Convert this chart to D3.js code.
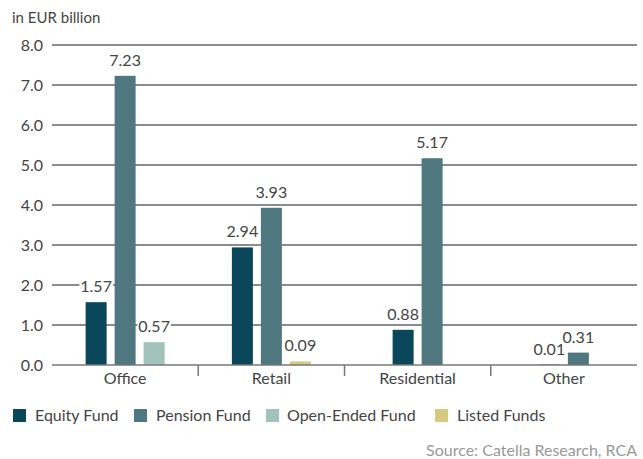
<!DOCTYPE html>
<html>
<head>
<meta charset="utf-8">
<script src="https://cdn.jsdelivr.net/npm/d3@7"></script>
<style>
  body { margin: 0; background: #fff; }
  text { font-family: Lato, "Open Sans", sans-serif; }
</style>
</head>
<body>
<svg id="chart" width="643" height="459"></svg>
<script>
// data
const categories = ["Office", "Retail", "Residential", "Other"];
const seriesNames = ["Equity Fund", "Pension Fund", "Open-Ended Fund", "Listed Funds"];
const equityFund = [1.57, 2.94, 0.88, 0.01];
const pensionFund = [7.23, 3.93, 5.17, 0.31];
const openEndedFund = [0.57, null, null, null];
const listedFunds = [null, 0.09, null, null];
const yTicks = [0, 1, 2, 3, 4, 5, 6, 7, 8];
const colors = ["#0a475a", "#4f7880", "#a1c3ba", "#d5ca80"];

const series = [equityFund, pensionFund, openEndedFund, listedFunds];

const svg = d3.select("#chart");
const plotLeft = 52, plotRight = 637, plotTop = 45, plotBottom = 365;

let x = d3.scaleBand().domain(categories).range([plotLeft, plotRight]);
let y = d3.scaleLinear().domain([0, 8]).range([plotBottom, plotTop]);

// y axis labels + grid
const grid = svg.append("g");
yTicks.forEach(function(t) {
	if (t > 0) {
		grid.append("line")
			.attr("x1", plotLeft).attr("x2", plotRight)
			.attr("y1", y(t)).attr("y2", y(t))
			.attr("stroke", "#1a1a1a").attr("stroke-width", 1.2);
	}
	svg.append("text")
		.attr("x", 43).attr("y", y(t) + 6)
		.attr("text-anchor", "end")
		.style("font-size", "16px").style("fill", "#444")
		.text(d3.format(".1f")(t));
});

svg.append("text")
	.attr("x", 12).attr("y", 23)
	.style("font-size", "15px").style("fill", "#444")
	.text("in EUR billion");

// bars
const step = 29;
const barsG = svg.append("g");
const labels = svg.append("g");
categories.forEach(function(cat, i) {
	let present = [];
	series.forEach(function(s, j) { if (s[i] !== null) present.push(j); });
	let cx = x(cat) + x.bandwidth() / 2;
	let inner = d3.scaleBand()
		.domain(present)
		.range([cx - present.length * step / 2, cx + present.length * step / 2])
		.paddingInner(8 / 29).paddingOuter(4 / 29);
	present.forEach(function(j) {
		let v = series[j][i];
		barsG.append("rect")
			.attr("x", inner(j)).attr("width", inner.bandwidth())
			.attr("y", y(v)).attr("height", Math.max(plotBottom - y(v), 0))
			.attr("fill", colors[j]);
		let lx = inner(j) + inner.bandwidth() / 2;
		let ly = y(v) - 10;
		let g = labels.append("g");
		let t = g.append("text")
			.attr("x", lx).attr("y", ly)
			.attr("text-anchor", "middle")
			.style("font-size", "16px").style("fill", "#444")
			.text(d3.format(".2f")(v));
		let bb = t.node().getBBox();
		g.insert("rect", "text")
			.attr("x", bb.x - 1).attr("y", bb.y + 3)
			.attr("width", bb.width + 2).attr("height", bb.height - 6)
			.attr("fill", "#fff");
	});
});

// baseline and category ticks
svg.append("line")
	.attr("x1", plotLeft).attr("x2", plotRight)
	.attr("y1", plotBottom).attr("y2", plotBottom)
	.attr("stroke", "#777").attr("stroke-width", 1.5);
categories.slice(1).forEach(function(cat) {
	svg.append("line")
		.attr("x1", x(cat)).attr("x2", x(cat))
		.attr("y1", plotBottom).attr("y2", plotBottom + 11)
		.attr("stroke", "#777").attr("stroke-width", 1.5);
});
categories.forEach(function(cat) {
	svg.append("text")
		.attr("x", x(cat) + x.bandwidth() / 2).attr("y", 384)
		.attr("text-anchor", "middle")
		.style("font-size", "16px").style("fill", "#444")
		.text(cat);
});

// legend
const legendX = [13, 134, 266, 435];
const legendTextX = [35, 156, 287, 457];
seriesNames.forEach(function(name, j) {
	svg.append("rect")
		.attr("x", legendX[j]).attr("y", 409)
		.attr("width", 13).attr("height", 13)
		.attr("fill", colors[j]);
	svg.append("text")
		.attr("x", legendTextX[j]).attr("y", 421)
		.style("font-size", "16px").style("fill", "#444")
		.text(name);
});

svg.append("text")
	.attr("x", 637).attr("y", 456)
	.attr("text-anchor", "end")
	.style("font-size", "16px").style("fill", "#999")
	.text("Source: Catella Research, RCA");
</script>
</body>
</html>
